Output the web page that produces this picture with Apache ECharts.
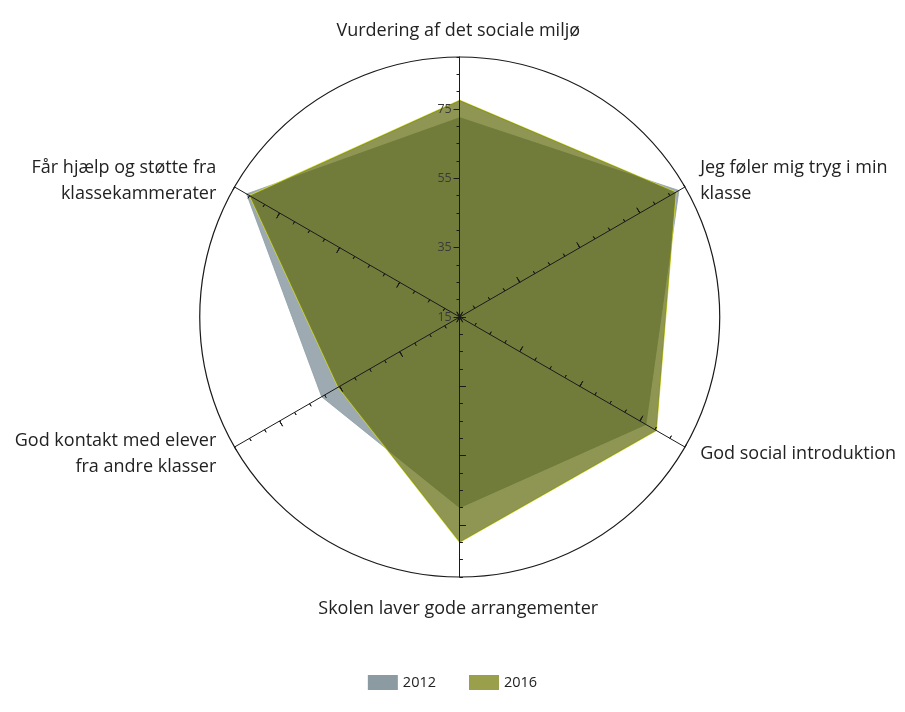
<!DOCTYPE html>
<html>
<head>
<meta charset="utf-8">
<script src="https://cdn.jsdelivr.net/npm/echarts@6/dist/echarts.min.js"></script>
<style>html,body{margin:0;padding:0;background:#fff;}#c{width:905px;height:712px;}</style>
</head>
<body>
<div id="c"></div>
<script>
// Indicators in ECharts order (first at top, then counter-clockwise)
const categories = [
  'Vurdering af det sociale miljø',
  'Får hjælp og støtte fra\nklassekammerater',
  'God kontakt med elever\nfra andre klasser',
  'Skolen laver gode arrangementer',
  'God social introduktion',
  'Jeg føler mig tryg i min\nklasse'
];
const values2012 = [72.5, 86, 61, 70, 77, 88];
const values2016 = [77.5, 85, 55.5, 80, 80.5, 87];
const seriesNames = ['2012', '2016'];
const axisMin = 15;
const axisMax = 90;
const majorMax = 75;     // last labelled tick (15, 35, 55, 75)
const minorSplits = 15;  // steps of 5
const majorSplits = 3;   // steps of 20

const FONT = 'Open Sans';
const center = ['50.8%', 317];
const R = 260;
const Rmajor = R * (majorMax - axisMin) / (axisMax - axisMin);

function indicators(max, labelFirst) {
  return categories.map((c, i) => {
    const o = { name: c, min: axisMin, max: max };
    if (labelFirst && i === 0) o.axisLabel = { show: true };
    return o;
  });
}
const hidden = {
  z: 5,
  splitLine: { show: false }, splitArea: { show: false },
  axisName: { show: false }, axisLabel: { show: false }
};

const chart = echarts.init(document.getElementById('c'), null, { renderer: 'canvas' });
chart.setOption({
  animation: false,
  legend: {
    bottom: 17,
    left: 'center',
    itemWidth: 30,
    itemHeight: 15,
    itemGap: 33,
    icon: 'rect',
    textStyle: { fontFamily: FONT, fontSize: 14.5, color: '#222' },
    itemStyle: { borderWidth: 0 },
    data: [
      { name: seriesNames[0], itemStyle: { color: '#8c9aa1' } },
      { name: seriesNames[1], itemStyle: { color: '#9a9f4b' } }
    ]
  },
  radar: [
    // 0: main axes, minor ticks one side, names
    Object.assign({}, hidden, {
      center: center, radius: R, shape: 'circle', splitNumber: minorSplits,
      indicator: indicators(axisMax),
      axisLine: { show: true, lineStyle: { color: '#1a1a1a', width: 1 } },
      axisTick: { show: true, inside: false, length: 3, lineStyle: { color: '#1a1a1a' } },
      axisName: { show: true, color: '#222', fontFamily: FONT, fontSize: 18, lineHeight: 26,
                  padding: [6, 7, 0, 4] },
      nameGap: 13
    }),
    // 1: minor ticks other side
    Object.assign({}, hidden, {
      center: center, radius: R, shape: 'circle', splitNumber: minorSplits,
      indicator: indicators(axisMax),
      axisLine: { show: false },
      axisTick: { show: true, inside: true, length: 3, lineStyle: { color: '#1a1a1a' } }
    }),
    // 2: major ticks + labels
    Object.assign({}, hidden, {
      center: center, radius: Rmajor, shape: 'circle', splitNumber: majorSplits,
      indicator: indicators(majorMax, true),
      axisLine: { show: false },
      axisTick: { show: true, inside: false, length: 6, lineStyle: { color: '#1a1a1a' } },
      axisLabel: { show: false, color: '#3a3a3a', fontFamily: FONT, fontSize: 12.5, margin: 8 }
    }),
    // 3: major ticks other side
    Object.assign({}, hidden, {
      center: center, radius: Rmajor, shape: 'circle', splitNumber: majorSplits,
      indicator: indicators(majorMax),
      axisLine: { show: false },
      axisTick: { show: true, inside: true, length: 6, lineStyle: { color: '#1a1a1a' } }
    }),
    // 4: outer circle
    Object.assign({}, hidden, {
      center: center, radius: R, shape: 'circle', splitNumber: 1,
      indicator: indicators(axisMax),
      axisLine: { show: false }, axisTick: { show: false },
      splitLine: { show: true, lineStyle: { color: '#1a1a1a', width: 1.2 } }
    })
  ],
  series: [
    {
      type: 'radar', radarIndex: 0, name: seriesNames[0], symbol: 'none', z: 1,
      color: '#8c9aa1',
      lineStyle: { color: '#a7b4ba', width: 1 },
      areaStyle: { color: '#8c9ba3', opacity: 0.85 },
      data: [{ name: seriesNames[0], value: values2012 }]
    },
    {
      type: 'radar', radarIndex: 0, name: seriesNames[1], symbol: 'none', z: 1,
      color: '#9a9f4b',
      lineStyle: { color: '#d6dc3c', width: 1.2 },
      areaStyle: { color: '#5f690a', opacity: 0.7 },
      data: [{ name: seriesNames[1], value: values2016 }]
    }
  ]
});
</script>
</body>
</html>
